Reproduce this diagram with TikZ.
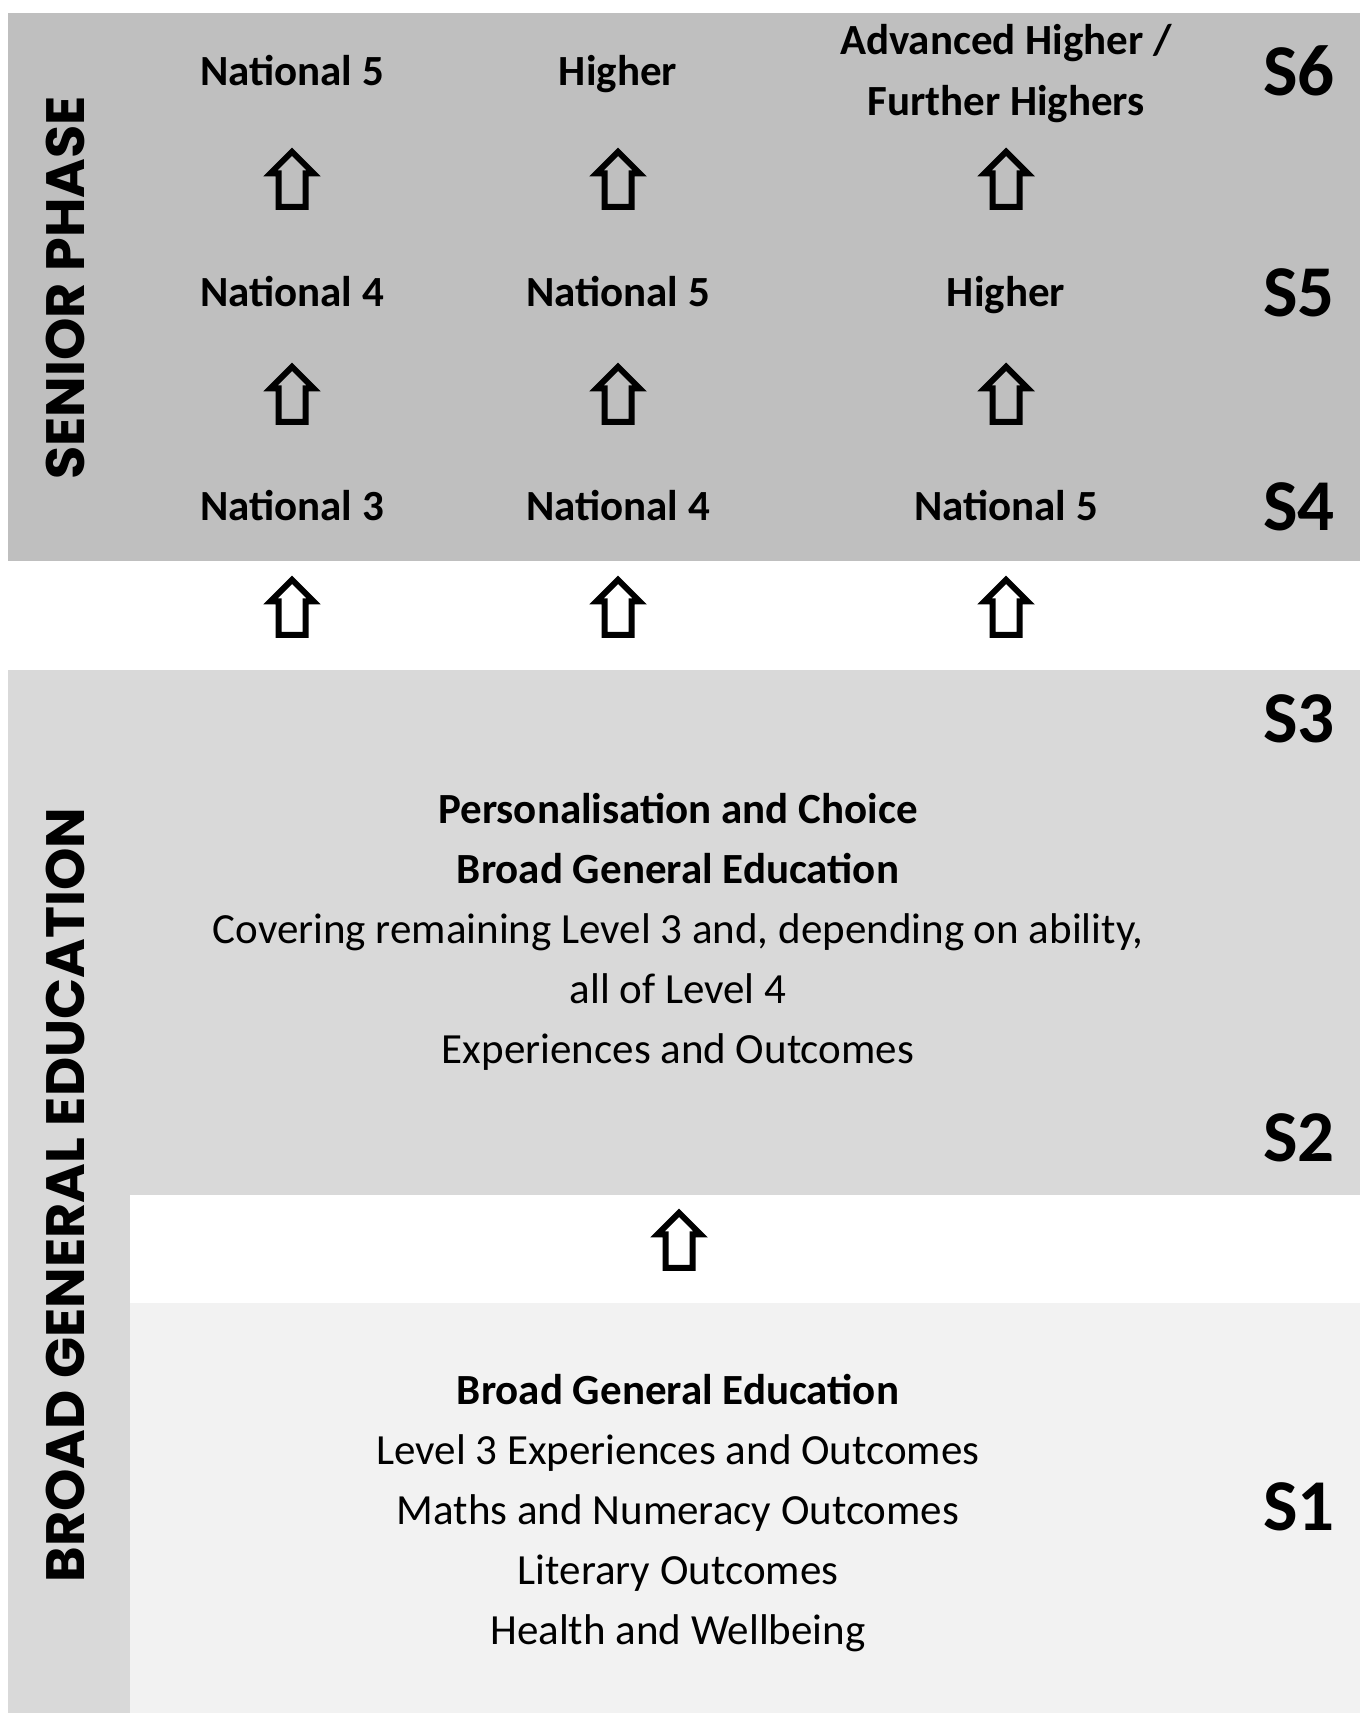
\documentclass[tikz,border=0pt]{standalone}
\usepackage{fontspec}
\setmainfont{Carlito}
\newfontfamily\phasefont{Poppins}
\usepackage{tikz}
\usetikzlibrary{shapes.arrows, positioning}

\definecolor{seniorgrey}{HTML}{BFBFBF}
\definecolor{bgegrey}{HTML}{D9D9D9}
\definecolor{firstgrey}{HTML}{F2F2F2}

\begin{document}
\begin{tikzpicture}[
    x=0.5pt, y=-0.5pt,
    qual/.style={font=\fontsize{21.5}{30.5}\selectfont\bfseries, align=center, inner sep=0pt, anchor=base},
    yearlab/.style={font=\fontsize{36.5}{40}\selectfont\bfseries, inner sep=0pt},
    phaselab/.style={font=\fontsize{27}{30}\selectfont\phasefont\bfseries, rotate=90, inner sep=0pt},
    bodytext/.style={font=\fontsize{21.5}{30}\selectfont, align=center, inner sep=0pt},
    uparrow/.style={single arrow, draw=black, line width=3pt, rotate=90, minimum height=27.5pt, minimum width=18.5pt, single arrow head extend=4pt, inner xsep=0pt, inner ysep=5.25pt}
]
\useasboundingbox (0,0) rectangle (1360,1713);
% background bands
\fill[seniorgrey] (8,13) rectangle (1360,561);
\fill[bgegrey] (8,670) rectangle (1360,1195);
\fill[bgegrey] (8,1195) rectangle (130,1713);
\fill[firstgrey] (130,1303) rectangle (1360,1713);

% phase titles
\node[phaselab] (senior) at (65,288) {SENIOR PHASE};
\node[phaselab] (bge) at (65,1195) {BROAD GENERAL EDUCATION};

% year labels
\node[yearlab] (y6) at (1299,71) {S6};
\node[yearlab] (y5) at (1299,293) {S5};
\node[yearlab] (y4) at (1299,507) {S4};
\node[yearlab] (y3) at (1299,719) {S3};
\node[yearlab] (y2) at (1299,1138) {S2};
\node[yearlab] (y1) at (1299,1507) {S1};

% senior phase courses
\node[qual] (q6a) at (292,85) {National 5};
\node[qual] (q6b) at (618,85) {Higher};
\node[qual] (q6c) at (1006,115) {Advanced Higher /\\Further Highers};
\node[qual] (q5a) at (292,306) {National 4};
\node[qual] (q5b) at (618,306) {National 5};
\node[qual] (q5c) at (1006,306) {Higher};
\node[qual] (q4a) at (292,520) {National 3};
\node[qual] (q4b) at (618,520) {National 4};
\node[qual] (q4c) at (1006,520) {National 5};

\node[uparrow] (up5a) at (292,186) {};
\node[uparrow] (up5b) at (618,186) {};
\node[uparrow] (up5c) at (1006,186) {};
\node[uparrow] (up4a) at (292,401) {};
\node[uparrow] (up4b) at (618,401) {};
\node[uparrow] (up4c) at (1006,401) {};
\node[uparrow] (up3a) at (292,614) {};
\node[uparrow] (up3b) at (618,614) {};
\node[uparrow] (up3c) at (1006,614) {};

% broad general education
\node[bodytext] (bgetext) at (678,932) {
    \textbf{Personalisation and Choice}\\
    \textbf{Broad General Education}\\
    Covering remaining Level 3 and, depending on ability,\\
    all of Level 4\\
    Experiences and Outcomes
};
\node[uparrow] (up2) at (679,1247) {};
\node[bodytext] (s1text) at (678,1513) {
    \textbf{Broad General Education}\\
    Level 3 Experiences and Outcomes\\
    Maths and Numeracy Outcomes\\
    Literary Outcomes\\
    Health and Wellbeing
};
\end{tikzpicture}
\end{document}
